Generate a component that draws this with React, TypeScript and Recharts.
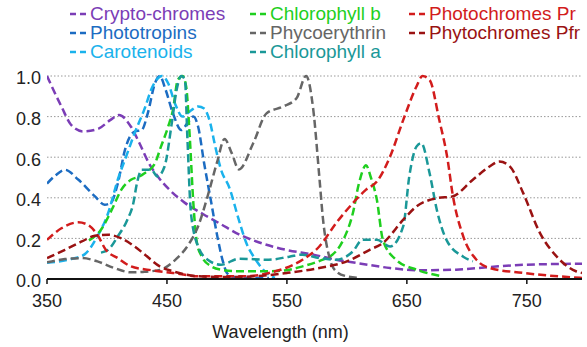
import React from "react";
import { LineChart, Line, XAxis, YAxis, CartesianGrid, Legend, Label } from "recharts";

// wavelength (nm) / relative absorbance pairs
const cryptochromes = [
  [350, 1.0], [362, 0.85], [370, 0.76], [380, 0.727], [392, 0.738], [403, 0.784], [410, 0.808],
  [420, 0.75], [427, 0.67], [435, 0.57], [443, 0.5], [452, 0.44], [465, 0.375], [480, 0.32],
  [495, 0.27], [510, 0.22], [527, 0.18], [549, 0.144], [572, 0.12], [591, 0.095], [608, 0.079],
  [620, 0.068], [636, 0.054], [663, 0.043], [691, 0.046], [719, 0.059], [747, 0.07], [796, 0.075],
];
const phototropins = [
  [350, 0.47], [357, 0.51], [365, 0.538], [376, 0.49], [390, 0.407], [398, 0.366], [403, 0.374],
  [409, 0.47], [415, 0.636], [419, 0.7], [423, 0.726], [429, 0.734], [434, 0.816], [440, 0.964],
  [444, 1.0], [449, 0.93], [455, 0.816], [462, 0.734], [467, 0.767], [472, 0.8], [476, 0.75],
  [481, 0.57], [487, 0.374], [492, 0.21], [497, 0.079], [500, 0.03], [505, 0.01], [520, 0.005], [535, 0.005],
];
const carotenoids = [
  [350, 0.08], [370, 0.098], [381, 0.12], [392, 0.21], [401, 0.325], [409, 0.489], [417, 0.62],
  [423, 0.718], [431, 0.833], [438, 0.948], [446, 1.0], [451, 0.964], [457, 0.86], [463, 0.8],
  [470, 0.83], [476, 0.85], [481, 0.84], [486, 0.77], [490, 0.66], [495, 0.54], [502, 0.45],
  [510, 0.29], [516, 0.18], [524, 0.095], [533, 0.03], [540, 0.005],
];
const chlorophyllB = [
  [385, 0.19], [395, 0.243], [404, 0.341], [412, 0.44], [420, 0.489], [427, 0.505], [431, 0.52],
  [440, 0.57], [445, 0.652], [451, 0.75], [455, 0.833], [459, 0.98], [463, 1.0], [466, 0.948],
  [469, 0.7], [472, 0.374], [475, 0.177], [479, 0.111], [487, 0.062], [495, 0.046], [510, 0.038],
  [535, 0.038], [552, 0.046], [563, 0.062], [580, 0.095], [586, 0.111], [597, 0.193], [605, 0.325],
  [610, 0.47], [616, 0.56], [620, 0.5], [625, 0.39], [630, 0.193], [641, 0.095], [658, 0.046], [680, 0.013],
];
const phycoerythrin = [
  [350, 0.082], [365, 0.098], [379, 0.103], [392, 0.087], [406, 0.054], [420, 0.033], [430, 0.035],
  [444, 0.045], [458, 0.1], [468, 0.17], [476, 0.26], [484, 0.41], [492, 0.58], [498, 0.69],
  [504, 0.62], [510, 0.54], [522, 0.67], [533, 0.816], [547, 0.85], [558, 0.89], [566, 1.0],
  [572, 0.833], [577, 0.505], [580, 0.3], [586, 0.095], [591, 0.038], [600, 0.013], [610, 0.005],
];
const chlorophyllA = [
  [395, 0.13], [401, 0.144], [409, 0.21], [417, 0.292], [422, 0.374], [425, 0.472], [429, 0.538],
  [437, 0.538], [442, 0.505], [448, 0.554], [454, 0.767], [458, 0.93], [462, 1.0], [465, 0.98],
  [467, 0.7], [470, 0.325], [476, 0.16], [484, 0.095], [495, 0.07], [510, 0.1], [535, 0.095],
  [552, 0.11], [563, 0.12], [577, 0.103], [591, 0.095], [605, 0.136], [613, 0.193], [625, 0.193],
  [636, 0.16], [647, 0.26], [652, 0.505], [658, 0.652], [662, 0.669], [669, 0.52], [675, 0.34],
  [683, 0.193], [697, 0.11], [705, 0.087],
];
const photochromesPr = [
  [350, 0.193], [362, 0.25], [376, 0.279], [384, 0.267], [392, 0.218], [399, 0.144], [409, 0.103],
  [420, 0.062], [435, 0.045], [455, 0.03], [477, 0.013], [505, 0.013], [520, 0.015], [535, 0.03],
  [549, 0.054], [563, 0.095], [577, 0.16], [591, 0.275], [605, 0.374], [616, 0.44], [625, 0.48],
  [636, 0.603], [647, 0.784], [658, 0.948], [663, 1.0], [669, 0.98], [677, 0.784], [684, 0.587],
  [688, 0.423], [697, 0.21], [708, 0.095], [719, 0.054], [747, 0.03], [796, 0.005],
];
const phytochromesPfr = [
  [350, 0.103], [365, 0.144], [379, 0.185], [390, 0.213], [401, 0.218], [412, 0.2], [423, 0.16],
  [430, 0.128], [444, 0.062], [455, 0.038], [477, 0.013], [500, 0.01], [522, 0.013], [550, 0.03],
  [577, 0.054], [600, 0.087], [619, 0.144], [630, 0.177], [647, 0.292], [658, 0.357], [675, 0.398],
  [688, 0.407], [705, 0.489], [719, 0.554], [727, 0.579], [736, 0.554], [747, 0.423], [761, 0.226],
  [775, 0.11], [791, 0.038], [796, 0.03],
];

const wavelengthTicks = [350, 450, 550, 650, 750];
const absorbanceTicks = [0, 0.2, 0.4, 0.6, 0.8, 1.0];

const series = [
  { name: "Crypto-chromes", color: "#7b3db6", pairs: cryptochromes },
  { name: "Phototropins", color: "#1c6cc2", pairs: phototropins },
  { name: "Carotenoids", color: "#1ab2ec", pairs: carotenoids },
  { name: "Chlorophyll b", color: "#1fcf1f", pairs: chlorophyllB },
  { name: "Phycoerythrin", color: "#666666", pairs: phycoerythrin },
  { name: "Chlorophyll a", color: "#1a9898", pairs: chlorophyllA },
  { name: "Photochromes Pr", color: "#d21c1c", pairs: photochromesPr },
  { name: "Phytochromes Pfr", color: "#9a1212", pairs: phytochromesPfr },
];

const legendColumns = [series.slice(0, 3), series.slice(3, 6), series.slice(6)];
const columnLeft = [70, 250, 409];

const FONT = "'Liberation Sans', Arial, Helvetica, sans-serif";

const renderLegend = () => (
  <div style={{ position: "relative", width: 587, height: 62 }}>
    {legendColumns.map((col, ci) => (
      <div key={ci} style={{ position: "absolute", left: columnLeft[ci], top: 4 }}>
        {col.map((s) => (
          <div
            key={s.name}
            style={{ display: "flex", alignItems: "center", height: 19, color: s.color, fontSize: 19, whiteSpace: "nowrap" }}
          >
            <svg width={16} height={4} style={{ marginRight: 4 }}>
              <line x1={0} y1={2} x2={16} y2={2} stroke={s.color} strokeWidth={2.5} strokeDasharray="6 4" />
            </svg>
            <span>{s.name}</span>
          </div>
        ))}
      </div>
    ))}
  </div>
);

export default function App() {
  return (
    <div style={{ position: "absolute", left: 0, top: 0, fontFamily: FONT, background: "#fff" }}>
      <LineChart width={587} height={347} margin={{ top: 76, right: 5, bottom: 0, left: 0 }}>
        <CartesianGrid horizontal vertical={false} stroke="#999" strokeDasharray="1.5 2" />
        <XAxis
          type="number"
          dataKey="nm"
          domain={[350, 796]}
          ticks={wavelengthTicks}
          allowDataOverflow
          height={68}
          tickSize={5}
          tickMargin={10}
          axisLine={{ stroke: "#111", strokeWidth: 2 }}
          tickLine={{ stroke: "#111", strokeWidth: 1.5 }}
          tick={{ fontSize: 18, fill: "#222", fontFamily: FONT }}
        >
          <Label value="Wavelength (nm)" position="insideBottom" offset={9} dx={-34} style={{ fontSize: 18, fill: "#222", fontFamily: FONT }} />
        </XAxis>
        <YAxis
          type="number"
          dataKey="v"
          domain={[0, 1]}
          ticks={absorbanceTicks}
          width={47}
          axisLine={false}
          tickLine={false}
          tickSize={0}
          tickMargin={6}
          tickFormatter={(v) => v.toFixed(1)}
          tick={{ fontSize: 18, fill: "#222", fontFamily: FONT, dy: 2 }}
        />
        <Legend
          layout="horizontal"
          verticalAlign="middle"
          content={renderLegend}
          wrapperStyle={{ top: 0, left: 0, width: 587 }}
        />
        {series.map((s) => (
          <Line
            key={s.name}
            name={s.name}
            data={s.pairs.map(([nm, v]) => ({ nm, v }))}
            dataKey="v"
            type="monotone"
            stroke={s.color}
            strokeWidth={2.5}
            strokeDasharray="8 4"
            dot={false}
            activeDot={false}
            isAnimationActive={false}
          />
        ))}
      </LineChart>
    </div>
  );
}
